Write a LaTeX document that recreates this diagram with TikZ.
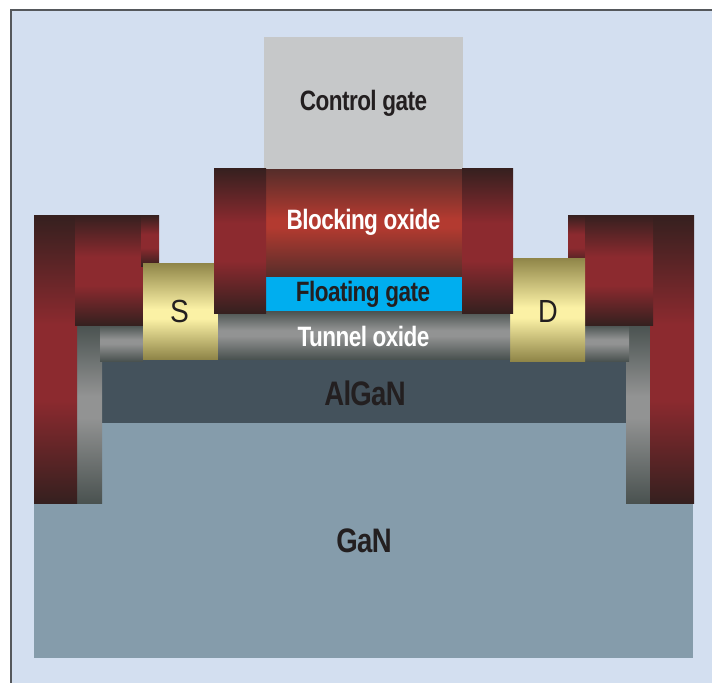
\documentclass[tikz,border=0pt]{standalone}
\usepackage{fontspec}
\setmainfont{Liberation Sans}
\newfontfamily\tightbold[LetterSpace=-2.5,BoldFont={Liberation Sans Bold}]{Liberation Sans Bold}
\definecolor{bgc}{HTML}{D3DFF0}
\definecolor{framec}{HTML}{55585C}
\definecolor{ganc}{HTML}{859CAB}
\definecolor{algc}{HTML}{44525C}
\definecolor{ctlc}{HTML}{C6C8C9}
\definecolor{fgc}{HTML}{00AEEF}
\definecolor{inkc}{HTML}{231F20}
\definecolor{rdark}{HTML}{35201F}
\definecolor{rmid}{HTML}{8C2A2F}
\definecolor{bdark}{HTML}{552D2A}
\definecolor{bmid}{HTML}{B33A30}
\definecolor{gdark}{HTML}{4A5250}
\definecolor{gmid}{HTML}{929393}
\definecolor{ydark}{HTML}{8F8548}
\definecolor{ymid}{HTML}{FBF1A5}
\pgfdeclareverticalshading{redband}{100bp}{color(0bp)=(rdark);color(25bp)=(rdark);color(43bp)=(rmid);color(56bp)=(rmid);color(75bp)=(rdark);color(100bp)=(rdark)}
\pgfdeclareverticalshading{blockband}{100bp}{color(0bp)=(bdark);color(25bp)=(bdark);color(48bp)=(bmid);color(52bp)=(bmid);color(75bp)=(bdark);color(100bp)=(bdark)}
\pgfdeclareverticalshading{grayband}{100bp}{color(0bp)=(gdark);color(25bp)=(gdark);color(49bp)=(gmid);color(55bp)=(gmid);color(75bp)=(gdark);color(100bp)=(gdark)}
\pgfdeclareverticalshading{yelband}{100bp}{color(0bp)=(ydark);color(25bp)=(ydark);color(46bp)=(ymid);color(51bp)=(ymid);color(75bp)=(ydark);color(100bp)=(ydark)}
\tikzset{
  redpart/.style={shading=redband},
  blockpart/.style={shading=blockband},
  graypart/.style={shading=grayband},
  yelpart/.style={shading=yelband},
  lab/.style={inner sep=0pt,text=inkc},
  whitelab/.style={inner sep=0pt,text=white},
}
\newcommand{\lbl}[3]{{\fontsize{#1pt}{#1pt}\selectfont\scalebox{#2}[1]{#3}}}
\begin{document}
\begin{tikzpicture}[x=1pt,y=-1pt]
\useasboundingbox (0,0) rectangle (712,683);
\fill[white] (0,0) rectangle (712,683);
\fill[bgc] (11,10) rectangle (712,683);
\fill[framec] (10,9) rectangle (712,11);
\fill[framec] (10,9) rectangle (12,683);
% substrate
\fill[ganc] (34,503) rectangle (693,658);
\fill[ganc] (102,423) rectangle (626,503);
\fill[algc] (102,359) rectangle (626,423);
% left stack
\shade[graypart] (77,325) rectangle (102,503);
\shade[graypart] (100,325) rectangle (143,361);
\shade[redpart] (34,215) rectangle (77,503);
\shade[redpart] (75,215) rectangle (143,325);
\shade[redpart] (141,215) rectangle (159,266);
\shade[yelpart] (143,263) rectangle (218,359);
% right stack
\shade[graypart] (626,325) rectangle (650,503);
\shade[graypart] (585,325) rectangle (629,361);
\shade[redpart] (650,215) rectangle (694,503);
\shade[redpart] (568,215) rectangle (585,266);
\shade[redpart] (585,215) rectangle (653,325);
\shade[yelpart] (510,258) rectangle (585,361);
% centre
\shade[graypart] (218,311) rectangle (510,359);
\fill[ctlc] (264,37) rectangle (463,169);
\shade[blockpart] (266,169) rectangle (462,277);
\fill[fgc] (266,277) rectangle (462,311);
\shade[redpart] (214,168) rectangle (266,313);
\shade[redpart] (462,168) rectangle (513,313);
% labels
\node[lab] (ctl) at (363.5,103.5) {\lbl{28}{0.805}{\tightbold Control gate}};
\node[whitelab] (blk) at (363.5,222.5) {\lbl{28}{0.805}{\tightbold Blocking oxide}};
\node[lab] (flt) at (363,294) {\lbl{28}{0.805}{\tightbold Floating gate}};
\node[whitelab] (tun) at (363.5,336.5) {\lbl{28}{0.805}{\tightbold Tunnel oxide}};
\node[lab] (alg) at (365,393.5) {\lbl{34}{0.81}{\tightbold AlGaN}};
\node[lab] (gan) at (364,540.5) {\lbl{34}{0.81}{\tightbold GaN}};
\node[lab] (src) at (179.5,311) {\lbl{32}{0.88}{S}};
\node[lab] (drn) at (548,311) {\lbl{32}{0.85}{D}};
\end{tikzpicture}
\end{document}
